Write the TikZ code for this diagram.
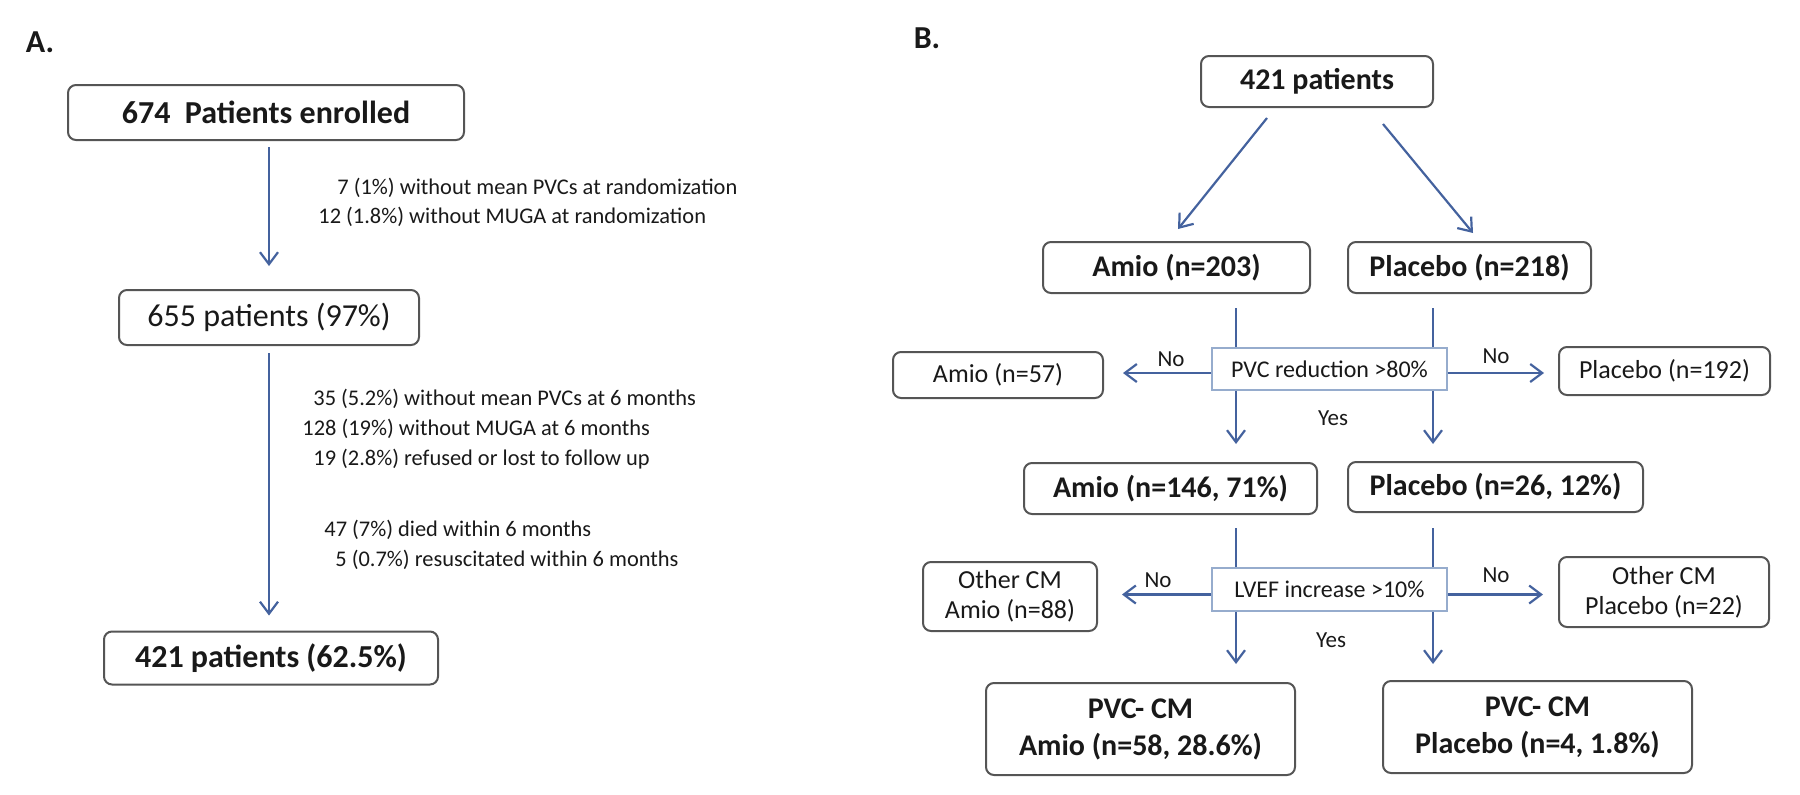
\documentclass[tikz,border=0pt]{standalone}
\usepackage{fontspec}
\setmainfont{Carlito}
\usetikzlibrary{arrows.meta,calc}
\definecolor{arrowblue}{RGB}{68,98,158}
\definecolor{boxgray}{RGB}{85,85,85}
\definecolor{decblue}{RGB}{150,172,205}
\definecolor{txt}{RGB}{25,25,25}
\begin{document}
\begin{tikzpicture}[x=0.5pt,y=-0.5pt,
  box/.style={draw=boxgray, line width=1pt, rounded corners=4pt, fill=white, align=center, inner sep=0pt, text=txt},
  bigb/.style={font=\bfseries\fontsize{16}{19}\selectfont},
  bigr/.style={font=\fontsize{16}{19}\selectfont},
  medb/.style={font=\bfseries\fontsize{15}{18.5}\selectfont},
  smr/.style={font=\fontsize{13}{15}\selectfont},
  dec/.style={draw=decblue, line width=0.9pt, fill=white, inner sep=0pt, text=txt, font=\fontsize{12}{14}\selectfont},
  arr/.style={draw=arrowblue, line width=1.1pt, -{Straight Barb[length=6pt,width=9pt]}},
  lane/.style={draw=arrowblue, line width=1.1pt},
  note/.style={anchor=west, inner sep=0pt, text=txt, font=\fontsize{11.2}{13}\selectfont},
  lbl/.style={inner sep=0pt, text=txt, font=\fontsize{11.5}{13}\selectfont}]
\useasboundingbox (0,0) rectangle (1800,794);

% ---------- Panel A ----------
\node[inner sep=0pt, text=txt, bigb] (labA) at (40,42) {A.};
\node[box, bigb, minimum width=198pt, minimum height=27.5pt] (n674) at (266,112.5) {674\ \ Patients enrolled};
\node[box, bigr, minimum width=150pt, minimum height=27.5pt] (n655) at (269,317.5) {655 patients (97\%)};
\node[box, bigb, minimum width=167pt, minimum height=26.5pt] (n421L) at (271,658) {421 patients (62.5\%)};

\node[note] (t1) at (337,188) {7 (1\%) without mean PVCs at randomization};
\node[note] (t2) at (318,217) {12 (1.8\%) without MUGA at randomization};
\node[note] (t3) at (313,399) {35 (5.2\%) without mean PVCs at 6 months};
\node[note] (t4) at (302,429) {128 (19\%) without MUGA at 6 months};
\node[note] (t5) at (313,459) {19 (2.8\%) refused or lost to follow up};
\node[note] (t6) at (324,530) {47 (7\%) died within 6 months};
\node[note] (t7) at (335,560) {5 (0.7\%) resuscitated within 6 months};

\draw[arr, shorten <=3pt, shorten >=11.5pt] (n655.north |- n674.south) -- (n655.north);
\draw[arr, shorten <=3.5pt, shorten >=7.5pt] (n655.south) -- (n655.south |- n421L.north);

% ---------- Panel B ----------
\node[inner sep=0pt, text=txt, bigb] (labB) at (927,38) {B.};
\node[box, medb, minimum width=116pt, minimum height=25.5pt] (n421) at (1317,81.5) {421 patients};
\node[box, medb, minimum width=133.5pt, minimum height=25.5pt] (amio203) at (1176.5,267.5) {Amio (n=203)};
\node[box, medb, minimum width=121.5pt, minimum height=25.5pt] (plac218) at (1469.5,267.5) {Placebo (n=218)};

\node[dec, minimum width=117.5pt, minimum height=21pt] (pvcdec) at (1329.5,369) {PVC reduction >80\%};
\node[box, smr, minimum width=105pt, minimum height=23pt] (amio57) at (998,375) {Amio (n=57)};
\node[box, smr, minimum width=105.5pt, minimum height=24pt] (plac192) at (1664.5,371) {Placebo (n=192)};

\node[box, medb, minimum width=146.5pt, minimum height=25.5pt] (amio146) at (1170.5,488.5) {Amio (n=146, 71\%)};
\node[box, medb, minimum width=147.5pt, minimum height=25pt] (plac26) at (1495.5,487) {Placebo (n=26, 12\%)};

\node[dec, minimum width=117.5pt, minimum height=21.5pt] (lvef) at (1329.5,589.5) {LVEF increase >10\%};
\node[box, smr, minimum width=87pt, minimum height=34.5pt] (othA) at (1010,596.5) {Other CM\\Amio (n=88)};
\node[box, smr, minimum width=105pt, minimum height=35pt] (othP) at (1664,592) {Other CM\\Placebo (n=22)};

\node[box, medb, minimum width=154.5pt, minimum height=46pt] (pvcA) at (1140.5,729) {PVC- CM\\Amio (n=58, 28.6\%)};
\node[box, medb, minimum width=154.5pt, minimum height=46pt] (pvcP) at (1537.5,727) {PVC- CM\\Placebo (n=4, 1.8\%)};

\coordinate (laneA) at (1236,0);
\coordinate (laneP) at (1433,0);

\draw[arr] ([xshift=-25pt,yshift=-5pt]n421.south) -- ([xshift=0.75pt,yshift=6pt]amio203.north);
\draw[arr] ([xshift=33pt,yshift=-8pt]n421.south) -- ([xshift=1.75pt,yshift=4pt]plac218.north);

\draw[lane] ($(laneA |- amio203.south)+(0,14)$) -- (laneA |- pvcdec.north);
\draw[lane] ($(laneP |- plac218.south)+(0,14)$) -- (laneP |- pvcdec.north);
\draw[arr, shorten >=9pt] (laneA |- pvcdec.south) -- (laneA |- amio146.north);
\draw[arr, shorten >=8.5pt] (laneP |- pvcdec.south) -- (laneP |- plac26.north);
\draw[arr, shorten >=9.5pt] ($(pvcdec.west)+(0,4)$) -- ($(pvcdec.west -| amio57.east)+(0,4)$);
\draw[arr, shorten >=7pt] ($(pvcdec.east)+(0,4)$) -- ($(pvcdec.east -| plac192.west)+(0,4)$);

\draw[lane] ($(laneA |- amio146.south)+(0,13)$) -- (laneA |- lvef.north);
\draw[lane] ($(laneP |- plac26.south)+(0,15)$) -- (laneP |- lvef.north);
\draw[arr, shorten >=9pt] (laneA |- lvef.south) -- (laneA |- pvcA.north);
\draw[arr, shorten >=8pt] (laneP |- lvef.south) -- (laneP |- pvcP.north);
\draw[arr, shorten >=12pt] ($(lvef.west)+(0,5)$) -- ($(lvef.west -| othA.east)+(0,5)$);
\draw[arr, shorten >=7.5pt] ($(lvef.east)+(0,5)$) -- ($(lvef.east -| othP.west)+(0,5)$);

\node[lbl] (no1) at (1171,359) {No};
\node[lbl] (no2) at (1496,356) {No};
\node[lbl] (yes1) at (1333,418) {Yes};
\node[lbl] (no3) at (1158,580) {No};
\node[lbl] (no4) at (1496,575) {No};
\node[lbl] (yes2) at (1331,640) {Yes};
\end{tikzpicture}
\end{document}
